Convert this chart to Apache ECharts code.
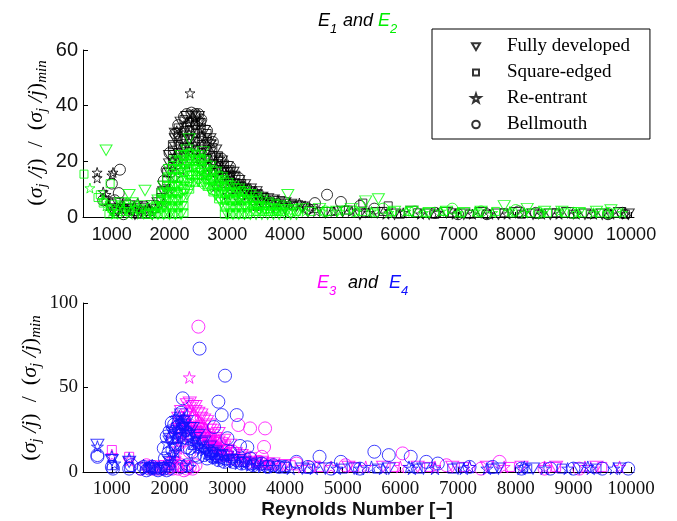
<!DOCTYPE html>
<html>
<head>
<meta charset="utf-8">
<script src="https://cdn.jsdelivr.net/npm/echarts@6/dist/echarts.min.js"></script>
<style>
  html, body { margin: 0; padding: 0; background: #fff; }
  #chart { width: 677px; height: 521px; }
</style>
</head>
<body>
<div id="chart"></div>
<script>
// x tick values shared by both panels
var xTicks = [1000, 2000, 3000, 4000, 5000, 6000, 7000, 8000, 9000, 10000];
var legendNames = ['Fully developed', 'Square-edged', 'Re-entrant', 'Bellmouth'];

// ---- top panel: E1 (black) ----
var e1Tri = [[1000,3],[1100,5],[1200,2],[1300,4],[1400,1],[1500,3],[1600,2],[1700,4],[1100,2],[1300,3],[1500,2],[1700,1],
  [1800,5],[1900,9],[1900,11],[2000,16],[2000,19],[2000,22],[2100,19],[2100,22],[2100,25],[2100,28],[2100,30],[2200,21],[2200,24],[2200,27],[2200,30],[2200,34],[2300,23],[2300,26],[2300,29],[2300,32],[2300,36],[2400,22],[2400,25],[2400,28],[2400,31],[2400,34],[2400,36.5],[2500,21],[2500,24],[2500,27],[2500,30],[2500,33],[2500,36],[2600,19],[2600,22],[2600,25],[2600,28],[2600,31],[2700,17],[2700,20],[2700,23],[2700,26],[2700,28],[2800,15],[2800,18],[2800,21],[2800,24],[2900,13],[2900,16],[2900,18],[2900,20],[3000,11],[3000,14],[3000,16],[3000,18],[3100,10],[3100,12],[3100,14],[3100,16],[3200,9],[3200,11],[3200,13],[3300,8],[3300,10],[3300,11.5],[3400,7],[3400,9],[3400,10],[3500,6],[3500,8],[3500,9],[3600,5],[3600,7],[3700,5],[3700,6.5],[3800,4],[3800,6],[3900,4],[3900,5.5],[4000,3],[4000,5],[4100,4.5],[4200,4],[4300,3.5],
  [4400,2],[4700,1.5],[5000,2],[5300,1],[5600,1.5],[5900,1],[6200,2],[6500,1],[6800,1.5],[7100,1],[7400,1.5],[7700,1],[8000,1.5],[8300,1],[8600,1],[8900,1.5],[9200,1],[9500,1],[9800,1.5],[9950,1]];
var e1Sq = [[1000,5],[1200,3],[1400,2],[1600,1],[900,6],[1050,2],[1250,5],[1350,3],[1450,1],[1550,4],[1650,2],
  [1750,3],[1850,7],[1850,9],[1950,13],[1950,16],[2050,18],[2050,21],[2050,24],[2050,26],[2150,20],[2150,23],[2150,26],[2150,29],[2150,32],[2250,22],[2250,25],[2250,28],[2250,31],[2250,35],[2350,22],[2350,25],[2350,28],[2350,31],[2350,34],[2450,21],[2450,24],[2450,27],[2450,30],[2450,33],[2450,36],[2550,20],[2550,23],[2550,26],[2550,29],[2550,32],[2550,34],[2650,18],[2650,21],[2650,24],[2650,27],[2650,30],[2750,16],[2750,19],[2750,22],[2750,25],[2850,14],[2850,17],[2850,20],[2850,22],[2950,12],[2950,15],[2950,17],[2950,19],[3050,11],[3050,13],[3050,15],[3050,17],[3150,10],[3150,12],[3150,15],[3250,9],[3250,11],[3250,12],[3350,8],[3350,10],[3450,7],[3450,9],[3550,6],[3550,8],[3650,5],[3650,7],[3750,5],[3850,5],[3950,4],[4150,4],[5350,5],[5790,4],
  [4500,3],[4800,2],[5100,2.5],[5400,1.5],[5700,2],[6000,1],[6300,1.5],[6600,1],[6900,1.5],[7200,1],[7500,1],[7800,1.5],[8100,1],[8400,1],[8700,1.5],[9000,1],[9300,1],[9600,1],[9900,1]];
var e1Star = [[2355,44.5],[745,16],[745,14],[1020,16],[1000,15],[900,8],[850,9],[950,4],[1150,3],[1200,4],[1350,2],[1450,5],[1500,3],[1650,3],
  [1900,5],[2000,10],[2100,14],[2200,17],[2300,19],[2600,15],[2800,11],[3000,8],[3200,6],[3500,4],
  [2125,31],[2325,34],[2425,35.5],[2525,35],[2725,27],[2875,21],[3075,16],[3275,11],[3475,9],[3675,7],[3875,6],[4075,5],[4250,5],[4350,4],
  [4550,2],[4850,2],[5150,2],[5450,1.5],[5750,1],[6050,1.5],[6350,1],[6650,1.5],[6950,1],[7250,1],[7550,1],[7850,1],[8150,1.5],[8450,1],[8750,1],[9050,1],[9350,1],[9650,1],[9900,1]];
var e1Circ = [[1140,17],[1000,12],[1120,8.6],[1050,6],[850,6],[1200,1],[1100,3],
  [1900,13],[1950,17],[2000,23],[2100,30],[2150,33],[2250,36],[2300,37],[2380,37.5],[2450,37],[2500,37],[2550,35],[2650,31],[2750,27],[2900,21],[3050,18],[3200,14],
  [4730,8],[4520,5],[4970,5.4],[5300,4],[5550,3],[7500,1],[8050,2],[8350,1.5],[9850,1.5],[9600,1],[4400,3],[6600,1.5],[7000,1]];

// ---- top panel: E2 (green) ----
var e2Tri = [[900,24],[1575,9.5],[1300,8],[1150,5],[1000,2],[1050,4],[1250,3],[1350,5],[1450,2],[1550,4],
  [1700,1],[1700,3],[1800,1],[1800,3.5],[1800,6],[1900,1],[1900,3.5],[1900,6],[1900,8.5],[1900,11],[2000,1],[2000,3.5],[2000,6],[2000,8.5],[2000,11],[2000,14],[2000,17],[2100,1],[2100,3.5],[2100,6],[2100,8.5],[2100,11],[2100,14],[2100,17],[2100,20],[2200,1],[2200,3.5],[2200,6],[2200,8.5],[2200,11],[2200,14],[2200,17],[2200,20],[2200,22],[2300,8],[2300,10.5],[2300,13],[2300,16],[2300,19],[2300,22],[2300,24],[2340,28],[2400,12],[2400,14.5],[2400,17],[2400,20],[2400,22.5],[2500,13],[2500,15.5],[2500,18],[2500,20],[2500,22],[2580,23.4],[2600,12],[2600,14.5],[2600,17],[2600,20],[2700,10],[2700,12.5],[2700,15],[2700,18],[2800,8],[2800,10.5],[2800,13],[2800,16],[2900,5],[2900,7.5],[2900,10],[2900,12.5],[2900,14],[3000,1],[3000,3.5],[3000,6],[3000,8.5],[3000,11],[3000,12],[3100,1],[3100,3.5],[3100,6],[3100,8.5],[3100,11],[3200,1],[3200,3.5],[3200,6],[3200,8.5],[3200,10],[3300,1],[3300,3.5],[3300,6],[3300,9],[3400,1],[3400,3.5],[3400,6],[3400,8],[3500,1],[3500,3.5],[3500,5.5],[3500,7],[3600,1],[3600,3.5],[3600,6],[3700,1],[3700,3],[3700,5],[3800,1],[3800,3],[3800,4.5],[3900,1],[3900,2.5],[3900,4],[4000,1],[4000,2.5],[4000,3.5],[4050,8],[4100,1],[4100,2.5],[4200,1],[4200,2.5],
  [4300,3],[4600,3],[4900,2],[5150,3],[5400,5.7],[5620,6.5],[5900,2],[6200,2],[6500,1.5],[6800,2],[7100,1.5],[7400,2],[7800,4],[8200,3],[8500,2],[8800,2],[9100,1.5],[9400,2],[9650,2.5]];
var e2Sq = [[517,15.4],[970,12],[800,8],[760,7],[850,5],[950,1],[1000,3],[1100,1],[1150,4],[1200,2],[1300,2],[1400,4],[1500,3],[1600,1],[1650,1],
  [1750,1],[1750,4],[1850,1],[1850,3.5],[1850,6],[1850,8.5],[1950,1],[1950,3.5],[1950,6],[1950,8.5],[1950,11],[1950,14],[2050,1],[2050,3.5],[2050,6],[2050,8.5],[2050,11],[2050,14],[2050,17],[2050,18.5],[2150,1],[2150,3.5],[2150,6],[2150,8.5],[2150,11],[2150,14],[2150,17],[2150,20],[2250,1.5],[2250,4],[2250,7],[2250,10],[2250,13],[2250,16],[2250,19],[2250,22],[2350,10],[2350,12.5],[2350,15],[2350,18],[2350,21],[2350,23],[2450,12.5],[2450,15],[2450,17.5],[2450,20],[2450,22],[2550,12.5],[2550,15],[2550,17.5],[2550,20],[2550,21],[2650,11],[2650,13.5],[2650,16],[2650,19],[2750,9],[2750,11.5],[2750,14],[2750,17],[2850,6.5],[2850,9],[2850,11.5],[2850,15],[2950,1],[2950,3.5],[2950,6],[2950,8.5],[2950,11],[2950,13.5],[3050,1],[3050,3.5],[3050,6],[3050,8.5],[3050,11.5],[3150,1],[3150,3.5],[3150,6],[3150,8.5],[3150,10.5],[3250,1],[3250,3.5],[3250,6],[3250,9.5],[3350,1],[3350,3.5],[3350,6],[3350,8.5],[3450,2],[3450,4],[3450,6],[3550,2],[3550,4],[3650,2],[3650,4],[3750,2],[3750,3],[3850,2],[3850,3],[3950,2],
  [4200,2],[4450,2],[4750,2],[5050,2.5],[5350,2],[5550,1.5],[5850,2],[6150,2],[6450,1.5],[6750,2],[7050,1.5],[7350,1.5],[7650,2],[7950,1.5],[8250,1.5],[8550,1.5],[8850,1.5],[9150,1.5],[9450,1.5],[9750,1.5]];
var e2Star = [[620,10.4],[850,6],[900,4],[1000,2],[1050,1],[1200,3],[1300,1],[1400,3],[1500,1],[1600,2],[1700,2],[1800,3],
  [1925,5],[2025,9],[2125,12],[2225,18],[2325,20],[2425,18],[2525,17],[2625,15],[2725,13],[2825,11],[3025,9],[3225,7],[3425,5],[3625,3],[3825,2],
  [4350,2],[4650,2],[4950,2],[5250,2],[5500,2],[5800,1.5],[6100,2],[6400,1.5],[6700,2],[7000,1.5],[7300,2],[7600,1.5],[7900,2],[8150,1.5],[8450,1.5],[8750,2],[9050,1.5],[9350,1.5],[9600,1.5],[9850,1.5]];
var e2Circ = [[1300,4],[2100,6],[2250,10],[2400,15],[2500,14],[2600,12],[2750,10],[2900,7],[3100,6],[3300,5],[3600,3],[4100,2],[4700,2],[5200,2],[5700,3],[6250,2],[6900,3],[7400,2],[8000,2.5],[8400,1.5],[9000,1.5],[9600,1.5]];

// ---- bottom panel: E3 (magenta) ----
var e3Tri = [[2400,39],[2350,38],[2500,35],[2650,30],[2700,25],[2600,27],[2800,20],[2900,17],[3000,13],[3100,11],[3300,9],[3500,6],[3700,5],[4000,4],[4500,3],[5100,3],[5700,3],[6300,3],[6900,3],[7500,3],[8100,3],[8700,3],[9400,3],[2200,20],[2250,30],
  [2300,34],[2450,36],[2550,32],[2750,22],[2850,18],[2950,15],[3150,11],[3250,10],[3400,8],[3600,6],[3800,5],[2200,24],[2250,26],[2400,30],[2500,26],[2600,22],[2700,18],[2800,14],
  [2150,32],[2200,36],[2300,40],[2350,41],[2450,39],[2550,34],[2600,31],[2700,28],[2750,25],[2850,23],[2950,19],[3050,16],[2400,24],[2500,21],[2650,20],[2750,17],[2850,13]];
var e3Sq = [[1000,13],[1300,9],[2150,25],[2250,31],[2350,27],[2450,24],[2550,21],[2650,18],[2750,15],[2850,13],[3000,10],[3250,8],[3500,6],[3750,5],[4100,4],[4600,3],[5200,3],[5900,3],[6500,3],[7100,3],[7900,3],[8700,3],[9500,3],[1700,3],[1900,4],[2050,6],
  [2200,18],[2300,22],[2400,20],[2500,17],[2600,14],[2700,12],[2800,10],[2900,9],[3100,7],[3300,6],[3400,5],[3600,4],[3800,4],[2100,10],[2300,4],[2150,3],
  [2050,20],[2100,26],[2150,30],[2300,28],[2400,27],[2500,24],[2600,24],[2700,21],[2800,19],[2900,15],[3000,13]];
var e3Star = [[2343,56],[2200,28],[2300,35],[2400,33],[2500,28],[2600,24],[2700,20],[2800,16],[2900,13],[3000,11],[3200,9],[3400,7],[3600,5],[3900,4],[4300,3],[4800,3],[5400,3],[6000,3],[6600,3],[7200,3],[7800,3],[8500,3],[9200,3],[9800,3],[2100,8],[2000,4],[1000,10],[1300,7],
  [2250,22],[2350,28],[2450,26],[2550,22],[2650,18],[2750,15],[2850,12],[2950,10],[3100,9],[3300,7],[3500,6],[3700,5],[2150,14],[2050,6]];
var e3Circ = [[2500,86],[3193,27.8],[3396,25.8],[3656,25.8],[3638,14.8],[3600,9],[3550,6],[2350,12],[2300,2],[2150,2],[2000,3],[2700,20],[2900,16],[3100,12],[2450,30],[2550,25],[3000,10],[1650,3],[1800,2],[1900,2],[6040,11],[7720,6],[6800,4],[4200,5],[5050,4],[9100,2],[8500,2],[7400,2],[2600,20],
  [2050,2],[2200,4],[2250,1],[2400,2],[1700,2],[1750,3],[2100,5],[1500,2],[1600,4],[1850,3],[2000,5],[2350,3],[2450,4]];

// ---- bottom panel: E4 (blue) ----
var e4Tri = [[750,16],[1000,7],[1300,6],[2200,34],[2300,30],[2400,26],[2500,22],[2600,18],[2700,15],[2800,12],[3000,9],[3200,7],[3500,5],[3900,3],[4300,2],[4700,2],[5200,2],[5800,2],[6400,2],[7000,2],[7700,2],[8300,2],[9100,2],[9800,2],[2100,14],[2000,6],
  [2250,28],[2350,26],[2150,22],[2450,20],[2550,17],[2650,13],[2750,11],[2900,10],[3100,7],[3300,6],[1700,2],[1900,2],[2000,18],[2050,23],[2150,30]];
var e4Sq = [[1000,4],[1300,3],[1650,3],[2000,4],[2150,20],[2250,27],[2350,22],[2450,18],[2600,15],[2750,12],[2900,10],[3100,8],[3300,6],[3500,5],[3700,4],[4000,3],[4400,2],[5000,2],[5600,2],[6300,2],[6900,2],[7600,2],[8200,2],[8800,2],[9400,2],
  [2200,26],[2300,24],[2400,16],[2500,14],[2700,10],[2800,8],[3000,7],[3200,6],[3400,4],[1750,2],[1950,3]];
var e4Star = [[750,15],[1000,9],[1300,8],[1050,5],[1700,4],[2000,8],[2100,12],[2150,16],[2200,30],[2170,33],[2250,32],[2300,25],[2350,20],[2400,17],[2500,15],[2600,13],[2700,10],[2800,8],[2900,7],[3000,6],[3200,5],[3400,4],[3600,3],[3800,3],[4100,2],[4500,2],[4900,2],[5300,2],[5700,2],[6200,2],[6600,2],[7100,2],[7500,2],[8100,2],[8500,2],[8900,2],[9300,2],[9700,2],[2050,10],
  [2100,20],[2150,25],[2250,28],[2200,22],[2350,24],[2450,19],[2550,14],[2650,11],[2750,9],[2850,8],[3100,6],[3300,5],[3500,4],[3700,3],[1650,3],[1800,2],[1900,3],[5500,3],[6150,3],[7200,3],[8150,3],[9250,3],
  [1950,17],[2000,22],[2050,26],[2100,32],[1600,2],[1550,4],[2250,4],[2350,3]];
var e4Circ = [[2520,73],[2962,57],[2846,41.6],[2904,33.7],[3164,33.7],[2771,26.6],[3003,20],[2228,43.6],[2080,28],[2050,20],[2100,16],[2180,22],[3222,15.4],[3348,14.6],[3050,12],[2350,14],[2450,10],[2600,10],[750,10],[750,9],[1000,3],[1020,2],[1300,2],[1340,4],[1650,2],[1750,2],[1850,2],[1950,1],[1700,3],[2700,12],[2800,10],[2900,9],[3400,8],[3600,5],[3800,4],[4000,3],[4200,6],[4600,9],[5550,12],[5800,10],[6180,9],[4970,6],[6450,6],[6650,5],[4400,3],[7200,3],[7600,3],[8100,2],[8600,2],[9000,2],[9500,2],[9950,2],[4800,2],[5300,2],
  [2100,24],[2150,27],[2050,13],[2200,35],[2300,20],[2400,12],[2500,9],[2650,8],[2750,9],[2850,7],[2950,6],[3100,6],[3250,5],[3450,4],[3700,3],[3900,3],[1600,1],[1800,1],[1900,2],[2000,2],[2297,14.6],
  [2038,29],[1950,21],[1900,14],[1920,8],[2000,24],[1980,11],[1500,2],[1550,3],[2200,3],[2300,4]];

var TRI = 'path://M0,0 L10,0 L5,8.7 Z';
var STAR = 'path://M5,0 L6.2,3.6 L10,3.6 L6.9,5.9 L8.1,9.5 L5,7.3 L1.9,9.5 L3.1,5.9 L0,3.6 L3.8,3.6 Z';
var topShapes = [
  { sym: TRI, size: [12, 10.5] },
  { sym: 'rect', size: 8 },
  { sym: STAR, size: 10 },
  { sym: 'circle', size: 11 }
];
var botShapes = [
  { sym: TRI, size: [13, 11.3] },
  { sym: 'rect', size: 9 },
  { sym: STAR, size: 12 },
  { sym: 'circle', size: 13 }
];
// legend icons padded inside a 14x14 box so they keep their own size
var legShapes = [
  { sym: 'path://M0,0 M3,3.8 L11,3.8 L7,10.5 Z M14,14', size: 14 },
  { sym: 'path://M0,0 M4,4 L10,4 L10,10 L4,10 Z M14,14', size: 14 },
  { sym: 'path://M0,0 M7,2.2 L8.1,5.5 L11.6,5.5 L8.8,7.6 L9.8,10.9 L7,8.9 L4.2,10.9 L5.2,7.6 L2.4,5.5 L5.9,5.5 Z M14,14', size: 14 },
  { sym: 'path://M0,0 M10.8,7 A3.8,3.8 0 1 1 3.2,7 A3.8,3.8 0 1 1 10.8,7 Z M14,14', size: 14 }
];

function sc(name, data, shape, color, idx, bw) {
  return {
    name: name,
    type: 'scatter',
    xAxisIndex: idx, yAxisIndex: idx,
    data: data,
    symbol: shape.sym,
    symbolSize: shape.size,
    clip: false,
    silent: true,
    itemStyle: { color: 'rgba(0,0,0,0)', borderColor: color, borderWidth: bw || 1 }
  };
}

var series = [];
for (var i = 0; i < 4; i++) series.push(sc(legendNames[i], [], legShapes[i], '#000', 0, 0.8));
var top1 = [e1Tri, e1Sq, e1Star, e1Circ];
var top2 = [e2Tri, e2Sq, e2Star, e2Circ];
var bot3 = [e3Tri, e3Sq, e3Star, e3Circ];
var bot4 = [e4Tri, e4Sq, e4Star, e4Circ];
for (i = 0; i < 4; i++) series.push(sc('E1_' + i, top1[i], topShapes[i], '#000000', 0));
for (i = 0; i < 4; i++) series.push(sc('E2_' + i, top2[i], topShapes[i], '#00ff00', 0));
for (i = 0; i < 4; i++) series.push(sc('E3_' + i, bot3[i], botShapes[i], '#ff00ff', 1));
for (i = 0; i < 4; i++) series.push(sc('E4_' + i, bot4[i], botShapes[i], '#1010ff', 1));

function plain(v) { return String(v); }

function xAx(idx, font, size, margin) {
  return {
    type: 'value', gridIndex: idx, min: 500, max: 10050,
    splitLine: { show: false },
    axisLine: { lineStyle: { color: '#000' } },
    axisTick: { inside: true, length: 5, customValues: xTicks, lineStyle: { color: '#000' } },
    axisLabel: { customValues: xTicks, formatter: plain, color: '#111', fontFamily: font, fontSize: size, margin: margin }
  };
}
function yAx(idx, max, step, font, size) {
  return {
    type: 'value', gridIndex: idx, min: 0, max: max, interval: step,
    splitLine: { show: false },
    axisLine: { show: true, lineStyle: { color: '#000' } },
    axisTick: { show: true, inside: true, length: 5, lineStyle: { color: '#000' } },
    axisLabel: { formatter: plain, color: '#111', fontFamily: font, fontSize: size, margin: 5 }
  };
}

var serif = 'Liberation Serif';
var ylabRich = {
  p: { fontFamily: serif, fontSize: 22, lineHeight: 28, verticalAlign: 'middle', fill: '#000' },
  i: { fontFamily: serif, fontStyle: 'italic', fontSize: 22, lineHeight: 28, verticalAlign: 'middle', fill: '#000' },
  s: { fontFamily: serif, fontStyle: 'italic', fontSize: 15, lineHeight: 15, verticalAlign: 'bottom', fill: '#000' }
};
var ylabText = '{p|(}{i|σ}{s|j}{i| /j}{p|)  /  (}{i|σ}{s|j}{i| /j}{p|)}{s|min}';

function ttl(x, y, txt, color, size) {
  return { type: 'text', x: x, y: y, style: { text: txt, fill: color, fontFamily: 'Liberation Sans', fontStyle: 'italic', fontSize: size, verticalAlign: 'middle' } };
}

var option = {
  animation: false,
  backgroundColor: '#fff',
  grid: [
    { left: 83, right: 43, top: 50, bottom: 304 },
    { left: 83, right: 43, top: 303, bottom: 49 }
  ],
  xAxis: [xAx(0, 'Liberation Sans', 18, 9), xAx(1, serif, 19, 8)],
  yAxis: [yAx(0, 60, 20, 'Liberation Sans', 20), yAx(1, 100, 50, serif, 19)],
  legend: {
    data: legendNames,
    orient: 'vertical',
    left: 432, top: 29,
    padding: [8, 20, 5, 36],
    itemGap: 7,
    itemWidth: 14, itemHeight: 14,
    borderColor: '#000', borderWidth: 1,
    selectedMode: false,
    textStyle: { fontFamily: serif, fontSize: 19, color: '#000', padding: [0, 0, 0, 19] }
  },
  graphic: [
    ttl(318, 21, 'E', '#000', 18), ttl(330, 29, '1', '#000', 13),
    ttl(343, 21, 'and', '#000', 18),
    ttl(378, 21, 'E', '#00ee00', 18), ttl(390, 29, '2', '#00ee00', 13),
    ttl(317, 283, 'E', '#ff00ff', 18), ttl(329, 291, '3', '#ff00ff', 13),
    ttl(348, 283, 'and', '#000', 18),
    ttl(389, 283, 'E', '#1010ff', 18), ttl(401, 291, '4', '#1010ff', 13),
    { type: 'text', x: 36, y: 133, rotation: Math.PI / 2,
      style: { text: ylabText, rich: ylabRich, align: 'center', verticalAlign: 'middle' } },
    { type: 'text', x: 30, y: 388, rotation: Math.PI / 2,
      style: { text: ylabText, rich: ylabRich, align: 'center', verticalAlign: 'middle' } },
    { type: 'text', x: 357, y: 510,
      style: { text: 'Reynolds Number [\u2212]', fill: '#111', fontFamily: 'Liberation Sans', fontWeight: 'bold', fontSize: 19, align: 'center', verticalAlign: 'middle' } }
  ],
  series: series
};

var myChart = echarts.init(document.getElementById('chart'));
myChart.setOption(option);
</script>
</body>
</html>
